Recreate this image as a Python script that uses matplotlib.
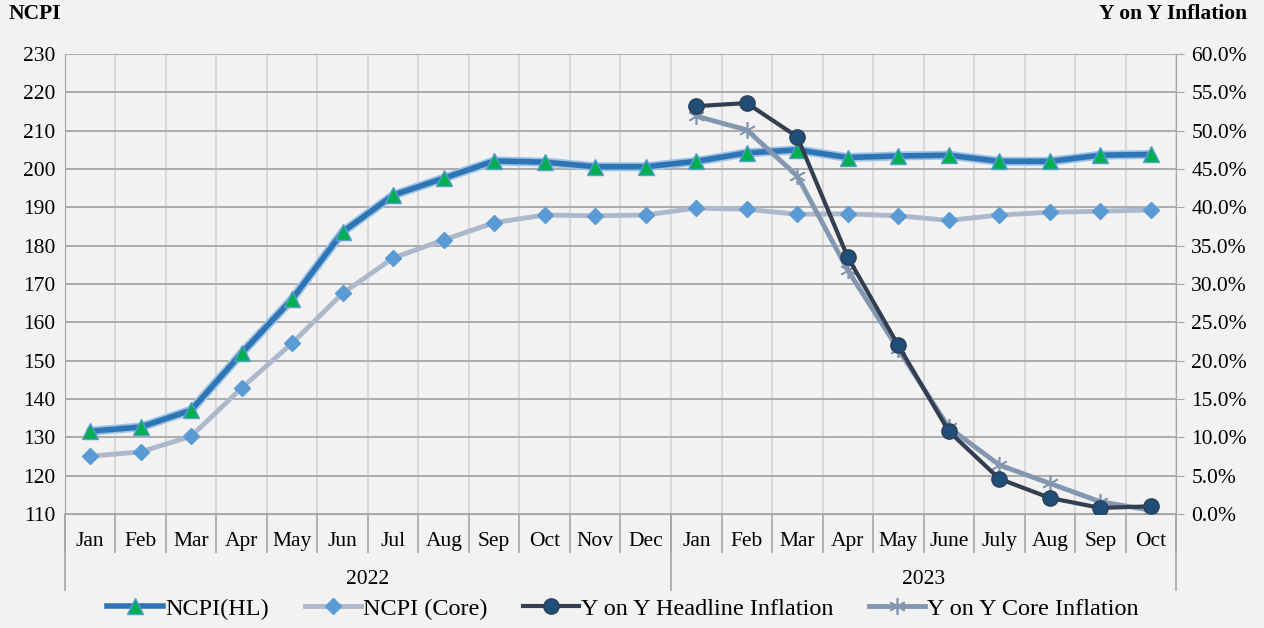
import matplotlib.pyplot as plt
import matplotlib.transforms as mtransforms
from matplotlib.ticker import FuncFormatter

plt.rcParams['font.family'] = ['Liberation Serif', 'DejaVu Serif']

# ------------------------- Datos -------------------------
meses = ['Jan', 'Feb', 'Mar', 'Apr', 'May', 'Jun', 'Jul', 'Aug', 'Sep', 'Oct', 'Nov', 'Dec',
         'Jan', 'Feb', 'Mar', 'Apr', 'May', 'June', 'July', 'Aug', 'Sep', 'Oct']
anios = ['2022', '2023']
meses_por_anio = [12, 10]

ncpi_hl = [131.6, 132.7, 137.1, 152.0, 166.1, 183.6, 193.2, 197.6, 202.1, 201.8, 200.6, 200.6,
           202.0, 204.2, 205.0, 203.0, 203.4, 203.6, 202.0, 202.0, 203.6, 203.8]
ncpi_core = [125.1, 126.2, 130.3, 142.9, 154.6, 167.6, 176.8, 181.5, 186.0, 188.0, 187.8, 188.0,
             189.8, 189.5, 188.2, 188.3, 187.8, 186.6, 188.0, 188.7, 189.0, 189.3]
# inflacion interanual (solo 2023)
yoy_headline = [53.2, 53.6, 49.2, 33.5, 22.0, 10.8, 4.6, 2.1, 0.8, 1.0]
yoy_core = [51.9, 50.1, 44.1, 31.8, 21.5, 11.3, 6.4, 4.0, 1.6, 0.5]

# ------------------------- Grafico -------------------------
bg = '#F2F2F2'
fig = plt.figure(figsize=(12.64, 6.28), dpi=100, facecolor=bg)
ax = fig.add_axes([0.0514, 0.1815, 0.8790, 0.7325], facecolor=bg)
ax2 = ax.twinx()

x = list(range(len(meses)))
x23 = x[meses_por_anio[0]:]

ax.set_xlim(-0.5, len(meses) - 0.5)
ax.set_ylim(110, 230)
ax.set_yticks(range(110, 231, 10))
ax2.set_ylim(0, 60)
ax2.set_yticks(range(0, 61, 5))
ax2.yaxis.set_major_formatter(FuncFormatter(lambda v, p: f'{v:.1f}%'))

# rejilla
for v in range(110, 231, 10):
    ax.axhline(v, color='#A6A6A6', lw=1.3, zorder=1)
for k in range(len(meses) + 1):
    ax.axvline(k - 0.5, color='#D9D9D9', lw=1.5, zorder=0.9)

for a in (ax, ax2):
    for s in a.spines.values():
        s.set_visible(False)
ax.spines['left'].set_visible(True)
ax.spines['left'].set_color('#A6A6A6')
ax2.spines['right'].set_visible(True)
ax2.spines['right'].set_color('#A6A6A6')
ax.spines['bottom'].set_visible(True)
ax.spines['bottom'].set_color('#A6A6A6')

ax.tick_params(axis='y', length=0, labelsize=15.5, pad=7)
ax2.tick_params(axis='y', length=6, color='#A6A6A6', labelsize=15.5, pad=5)

# eje x en dos niveles
ax.set_xticks([k - 0.5 for k in range(len(meses) + 1)])
ax.set_xticklabels([])
ax.tick_params(axis='x', which='major', length=28, color='#A6A6A6', width=1.2)
ax.set_xticks(x, minor=True)
ax.set_xticklabels(meses, minor=True)
ax.tick_params(axis='x', which='minor', length=0, labelsize=15.5, pad=13)

trans = mtransforms.blended_transform_factory(ax.transData, ax.transAxes)
bordes = [-0.5, meses_por_anio[0] - 0.5, len(meses) - 0.5]
for b in bordes:
    ax.plot([b, b], [0, -0.165], transform=trans, color='#A6A6A6', lw=1.2, clip_on=False)
inicio = -0.5
for anio, n in zip(anios, meses_por_anio):
    ax.text(inicio + n / 2, -0.143, anio, transform=trans, ha='center', va='center', fontsize=15.5)
    inicio += n

# series
ax.plot(x, ncpi_hl, color='#9DC3E6', lw=6.5, zorder=4.9, solid_capstyle='round')
l1, = ax.plot(x, ncpi_hl, color='#2E75B6', lw=4, marker='^', markersize=12,
              markerfacecolor='#00B050', markeredgecolor='#5B9BD5', markeredgewidth=1,
              zorder=5, label='NCPI(HL)')
l2, = ax.plot(x, ncpi_core, color='#ADB9CA', lw=3.5, marker='D', markersize=8,
              markerfacecolor='#5B9BD5', markeredgecolor='#5B9BD5', zorder=4, label='NCPI (Core)')
l3, = ax2.plot(x23, yoy_headline, color='#333F50', lw=3, marker='o', markersize=11,
               markerfacecolor='#1F4E79', markeredgecolor='#2F3E55', zorder=6,
               label='Y on Y Headline Inflation')
l4, = ax2.plot(x23, yoy_core, color='#8497B0', lw=3.5, marker=(6, 2, 0), markersize=12,
               markeredgecolor='#8497B0', markeredgewidth=1.2, zorder=5,
               label='Y on Y Core Inflation')

fig.text(0.007, 0.977, 'NCPI', fontsize=15.5, fontweight='bold', ha='left', va='center')
fig.text(0.987, 0.977, 'Y on Y Inflation', fontsize=15.5, fontweight='bold', ha='right', va='center')

fig.legend(handles=[l1, l2, l3, l4], loc='center', bbox_to_anchor=(0.493, 0.031), ncol=4,
           frameon=False, fontsize=17.5, handlelength=2.3, columnspacing=1.45, handletextpad=0.1)

fig.savefig('out.png', dpi=100, facecolor=bg)
